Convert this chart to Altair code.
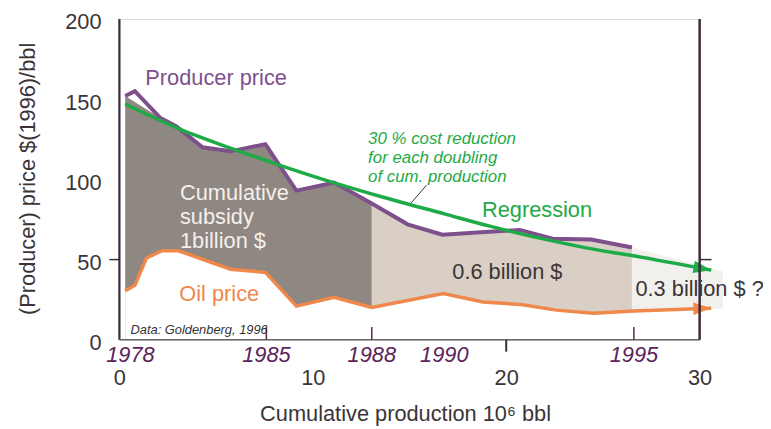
import altair as alt
import pandas as pd

FONT = "Liberation Sans"

# ---- data ----
prod_cum = [0.3, 0.8, 2.1, 2.95, 4.3, 5.75, 7.55, 9.15, 11.1, 13.05, 14.9, 16.7, 18.7, 20.7, 22.4, 24.4, 26.5]
prod_val = [152, 155, 138.5, 133, 120, 117.5, 122, 93, 98, 85, 72, 65.5, 67, 68.5, 63, 62.5, 57.5]
oil_cum = [0.3, 0.8, 1.4, 2.2, 3.05, 5.75, 7.55, 9.15, 11.1, 13.05, 16.75, 18.8, 20.75, 22.6, 24.5, 26.6, 30.6]
oil_val = [30.5, 34, 51, 55.5, 55.5, 44, 42, 21, 26.5, 20.2, 28.8, 23.6, 22, 18.5, 16.5, 18, 19.7]
reg_cum = [0.3, 3.0, 5.75, 8.5, 11.2, 13.6, 16.8, 19.1, 22.45, 24.5, 26.5, 30.6]
reg_val = [147, 132, 119.5, 108, 97.5, 89, 78.5, 71, 61.5, 56.5, 52.5, 43.4]
future_cum = [26.5, 31.2]
future_top = [57.7, 42.6]
future_bottom = [18, 19.5]
year_labels = ["1978", "1985", "1988", "1990", "1995"]
year_cum = [0.57, 7.6, 13.05, 16.8, 26.6]
year_tick = [False, True, True, False, True]
x_ticks = [0, 10, 20, 30]
y_ticks = [0, 50, 100, 150, 200]

PURPLE = "#7d508c"
GREEN = "#1eaa46"
ORANGE = "#f0874b"
DARK = "#8f8782"
TAN = "#d9cfc5"
LIGHT = "#f2f0ed"
AXIS = "#3a2a3a"
TXT = "#3b3437"
YEAR = "#5b2458"

prod = pd.DataFrame({"cum": prod_cum, "val": prod_val})
oil = pd.DataFrame({"cum": oil_cum, "val": oil_val})
reg = pd.DataFrame({"cum": reg_cum, "val": reg_val})
fut = pd.DataFrame({"cum": future_cum, "top": future_top, "bottom": future_bottom})
years = pd.DataFrame({"cum": year_cum, "label": year_labels, "tick": year_tick})

xs = alt.Scale(domain=[0, 30], nice=False, zero=False)
ys = alt.Scale(domain=[0, 200], nice=False)

x_axis = alt.Axis(values=x_ticks, ticks=False, grid=False, domain=False, labelFontSize=22, labelPadding=28,
                  labelColor=TXT, labelFont=FONT, labelFlush=False,
                  title="Cumulative production 10\u2076 bbl", titleFont=FONT, titleFontSize=22,
                  titleFontWeight="normal", titleColor=TXT, titleX=288.5, titleY=82,
                  titleBaseline="alphabetic", titleAlign="center", zindex=1)
y_axis = alt.Axis(values=y_ticks, ticks=False, grid=False, domain=False, labelFontSize=22, labelPadding=18.5,
                  labelOffset=3, labelColor=TXT, labelFont=FONT, labelFlush=False,
                  title="(Producer) price $(1996)/bbl", titleFont=FONT, titleFontSize=22,
                  titleFontWeight="normal", titleColor=TXT, titleX=-92.5, titleY=161,
                  titleAlign="center", titleBaseline="middle", titleAngle=270, zindex=1)


def X(field="cum"):
    return alt.X(f"{field}:Q", scale=xs, axis=x_axis)


def Y(field="val"):
    return alt.Y(f"{field}:Q", scale=ys, axis=y_axis)


dark_area = alt.Chart(prod).transform_filter("datum.cum <= 13.05 && datum.cum != 0.8").mark_area(
    color=DARK, opacity=1).encode(x=X(), y=Y())
tan_area = alt.Chart(prod).transform_filter("datum.cum >= 13.05").mark_area(
    color=TAN, opacity=1).encode(x=X(), y=Y())
white_area = alt.Chart(oil).mark_area(color="white", opacity=1).encode(x=X(), y=Y())
fut_area = alt.Chart(fut).mark_area(color=LIGHT, opacity=1).encode(
    x=X(), y=Y("top"), y2=alt.Y2("bottom:Q"))

prod_line = alt.Chart(prod).mark_line(color=PURPLE, strokeWidth=4).encode(x=X(), y=Y())
reg_line = alt.Chart(reg).mark_line(color=GREEN, strokeWidth=3.5, interpolate="monotone").encode(x=X(), y=Y())
oil_line = alt.Chart(oil).mark_line(color=ORANGE, strokeWidth=3.5).encode(x=X(), y=Y())

ARROW = "M 0 0 L -1 -0.35 L -1 0.35 Z"
reg_arrow = alt.Chart(reg.tail(1)).mark_point(shape=ARROW, filled=True, size=1296, color=GREEN,
                                               opacity=1, strokeWidth=0, angle=10.5).encode(x=X(), y=Y())
oil_arrow = alt.Chart(oil.tail(1)).mark_point(shape=ARROW, filled=True, size=1296, color=ORANGE,
                                               opacity=1, strokeWidth=0, angle=358).encode(x=X(), y=Y())

one = pd.DataFrame({"a": [0]})
left_frame = alt.Chart(one).mark_rule(color=AXIS, strokeWidth=2.2).encode(
    x=alt.value(0), y=alt.value(0), y2=alt.value(324))
bottom_frame = alt.Chart(one).mark_rule(color="#6d6668", strokeWidth=1.5).encode(
    x=alt.value(0), x2=alt.value(586), y=alt.value(324))
right_frame = alt.Chart(one).mark_rule(color=AXIS, strokeWidth=2.5).encode(
    x=alt.value(586), y=alt.value(0), y2=alt.value(324))
y_tick_l = alt.Chart(one).mark_rule(color=AXIS, strokeWidth=1.5).encode(
    x=alt.value(-10), x2=alt.value(0), y=alt.Y("v:Q", scale=ys, axis=y_axis)).transform_calculate(v="50")
y_tick_r = alt.Chart(one).mark_rule(color=AXIS, strokeWidth=1.5).encode(
    x=alt.value(586), x2=alt.value(598), y=alt.Y("v:Q", scale=ys, axis=y_axis)).transform_calculate(v="50")
x_tick = alt.Chart(one).mark_rule(color=AXIS, strokeWidth=2).encode(
    x=alt.X("v:Q", scale=xs, axis=x_axis), y=alt.value(324), y2=alt.value(336)).transform_calculate(v="20")
year_ticks = alt.Chart(years).transform_filter("datum.tick").mark_rule(color=YEAR, strokeWidth=1.5).encode(
    x=X(), y=alt.value(311), y2=alt.value(324))
year_text = alt.Chart(years).mark_text(font=FONT, fontSize=22, fontStyle="italic", color=YEAR,
                                       align="center", baseline="alphabetic").encode(
    x=X(), y=alt.value(346.5), text="label:N")


def label(text, x, y, color, size=22, italic=False, line_height=None):
    kw = dict(text=text, font=FONT, fontSize=size, color=color, align="left", baseline="alphabetic")
    if italic:
        kw["fontStyle"] = "italic"
    if line_height:
        kw["lineHeight"] = line_height
    return alt.Chart(one).mark_text(**kw).encode(x=alt.value(x), y=alt.value(y))


leader = alt.Chart(one).mark_rule(color="#333333", strokeWidth=1).encode(
    x=alt.value(310), y=alt.value(168), x2=alt.value(294.5), y2=alt.value(186))

texts = [
    label("Producer price", 26.2, 66.3, PURPLE),
    label(["Cumulative", "subsidy", "1billion $"], 61.2, 183, "#f4f0ec", line_height=24),
    label("Oil price", 60.5, 284.7, ORANGE),
    label(["30 % cost reduction", "for each doubling", "of cum. production"], 251.2, 126.3, GREEN,
          size=17, italic=True, line_height=19),
    label("Regression", 366.2, 199.7, GREEN),
    label("0.6 billion $", 336.2, 263, TXT),
    label("0.3 billion $ ?", 521.2, 279.7, TXT),
    label("Data: Goldenberg, 1996", 11.2, 318, "#333333", size=13, italic=True),
]

chart = alt.layer(
    dark_area, tan_area, white_area, fut_area,
    prod_line, reg_line, oil_line, reg_arrow, oil_arrow,
    left_frame, bottom_frame, right_frame, y_tick_l, y_tick_r, x_tick, year_ticks, year_text, leader, *texts
).properties(
    width=586, height=324,
    padding={"left": 112.5, "top": 9, "right": 64, "bottom": 88},
    autosize=alt.AutoSizeParams(type="none"),
).configure_view(stroke="#bdb5b3", strokeWidth=2).configure(font=FONT, background="white")

chart.save("out.html", embed_options={"renderer": "svg", "actions": False})
